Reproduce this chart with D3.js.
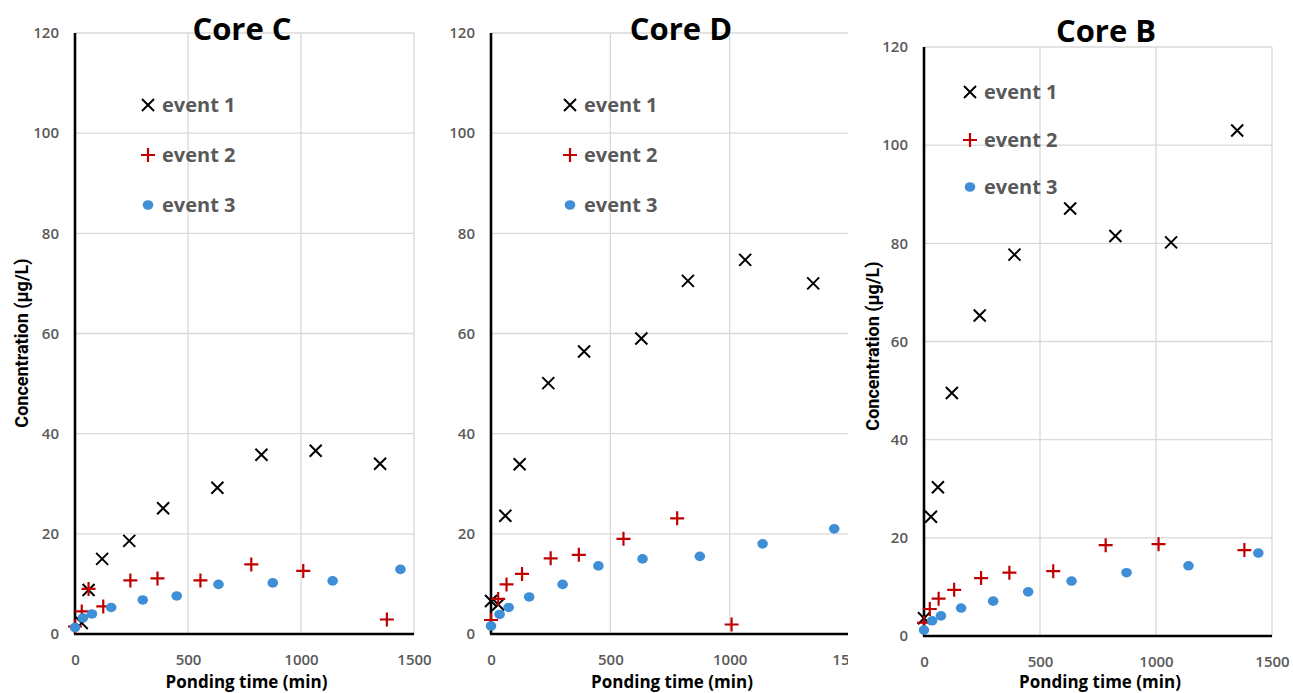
<!DOCTYPE html>
<html>
<head>
<meta charset="utf-8">
<script src="https://cdn.jsdelivr.net/npm/d3@7"></script>
<style>
  body { margin: 0; background: #fff; }
  svg { display: block; }
</style>
</head>
<body>
<div id="chart-area"></div>
<script>
// ponding time (min), concentration (ug/L)
const coreC_event1 = [[30, 2.2], [60, 8.8], [120, 15.0], [240, 18.6], [390, 25.1], [630, 29.2], [825, 35.8], [1065, 36.6], [1350, 34.0]]
const coreC_event2 = [[0, 1.5], [30, 4.5], [60, 9.0], [125, 5.5], [245, 10.7], [365, 11.1], [555, 10.7], [780, 13.9], [1010, 12.6], [1380, 2.9]]
const coreC_event3 = [[0, 1.3], [35, 3.2], [75, 4.0], [160, 5.3], [300, 6.8], [450, 7.6], [635, 9.9], [875, 10.2], [1140, 10.6], [1440, 12.9]]

const coreD_event1 = [[0, 6.6], [30, 5.9], [60, 23.6], [120, 33.9], [240, 50.1], [390, 56.4], [630, 59.0], [825, 70.5], [1065, 74.7], [1350, 70.0]]
const coreD_event2 = [[0, 2.8], [30, 7.0], [65, 9.9], [130, 12.0], [250, 15.1], [368, 15.8], [555, 19.0], [780, 23.1], [1008, 1.9]]
const coreD_event3 = [[0, 1.6], [36, 3.9], [74, 5.3], [160, 7.4], [300, 9.9], [450, 13.6], [635, 15.0], [875, 15.5], [1138, 18.0], [1438, 21.0]]

const coreB_event1 = [[0, 3.6], [30, 24.3], [60, 30.3], [120, 49.5], [240, 65.3], [390, 77.7], [630, 87.1], [825, 81.5], [1065, 80.2], [1350, 103.0]]
const coreB_event2 = [[0, 2.7], [25, 5.5], [63, 7.6], [130, 9.4], [246, 11.8], [368, 12.9], [557, 13.2], [783, 18.5], [1011, 18.7], [1381, 17.5]]
const coreB_event3 = [[0, 1.2], [35, 3.1], [73, 4.1], [160, 5.7], [298, 7.1], [449, 9.0], [636, 11.2], [873, 12.9], [1140, 14.3], [1441, 16.9]]

const xTicks = [0, 500, 1000, 1500]
const yTicks = [0, 20, 40, 60, 80, 100, 120]
const seriesNames = ["event 1", "event 2", "event 3"]

const panels = [
  { title: "Core C", data: [coreC_event1, coreC_event2, coreC_event3],
    left: 75, right: 414, top: 33, bottom: 634, titleX: 242, titleY: 40,
    yTitleX: 22, yTitleY: 343, legX: 148, legY: [105, 155, 205], clipRight: null },
  { title: "Core D", data: [coreD_event1, coreD_event2, coreD_event3],
    left: 491, right: 849, top: 33, bottom: 634, titleX: 681, titleY: 40,
    yTitleX: null, yTitleY: null, legX: 570, legY: [105, 155, 205], clipRight: 848 },
  { title: "Core B", data: [coreB_event1, coreB_event2, coreB_event3],
    left: 924, right: 1272, top: 47, bottom: 636, titleX: 1106, titleY: 42,
    yTitleX: 873, yTitleY: 346, legX: 970, legY: [92, 140, 187], clipRight: null }
]

const W = 1293, H = 693
const GRID = "#d9d9d9", TICK = "#595959"
const RED = "#c00000", BLUE = "#3f8fd6"

const svg = d3.select("#chart-area").append("svg")
  .attr("width", W)
  .attr("height", H)

svg.append("defs").append("clipPath")
  .attr("id", "clipD")
  .append("rect")
  .attr("x", 430).attr("y", 0).attr("width", 848 - 430).attr("height", H)

function drawMarker(g, kind, cx, cy) {
  if (kind === 0) {
    const s = 6
    g.append("path")
      .attr("d", `M${cx - s},${cy - s}L${cx + s},${cy + s}M${cx - s},${cy + s}L${cx + s},${cy - s}`)
      .attr("stroke", "#000").attr("stroke-width", 2).attr("fill", "none")
  } else if (kind === 1) {
    const s = 7
    g.append("path")
      .attr("d", `M${cx - s},${cy}L${cx + s},${cy}M${cx},${cy - s}L${cx},${cy + s}`)
      .attr("stroke", RED).attr("stroke-width", 2.2).attr("fill", "none")
  } else {
    g.append("ellipse")
      .attr("cx", cx).attr("cy", cy).attr("rx", 5.3).attr("ry", 4.8)
      .attr("fill", BLUE)
  }
}

panels.forEach(p => {
  const g = svg.append("g")
  if (p.clipRight) g.attr("clip-path", "url(#clipD)")

  const x = d3.scaleLinear().domain([0, 1500]).range([p.left, p.right])
  const y = d3.scaleLinear().domain([0, 120]).range([p.bottom, p.top])

  // gridlines
  g.append("g")
    .selectAll("line")
    .data(yTicks.filter(d => d > 0))
    .join("line")
    .attr("x1", p.left).attr("x2", p.right)
    .attr("y1", d => y(d)).attr("y2", d => y(d))
    .attr("stroke", GRID).attr("stroke-width", 1.3)
  g.append("g")
    .selectAll("line")
    .data(xTicks.filter(d => d > 0))
    .join("line")
    .attr("x1", d => x(d)).attr("x2", d => x(d))
    .attr("y1", p.top).attr("y2", p.bottom)
    .attr("stroke", GRID).attr("stroke-width", 1.3)

  // tick labels
  const yAxis = g.append("g")
    .attr("transform", `translate(${p.left - 10},0)`)
    .call(d3.axisLeft(y).tickValues(yTicks).tickSize(0).tickPadding(6).tickFormat(d3.format("d")))
  const xAxis = g.append("g")
    .attr("transform", `translate(0,${p.bottom + 16})`)
    .call(d3.axisBottom(x).tickValues(xTicks).tickSize(0).tickPadding(4).tickFormat(d3.format("d")))
  ;[xAxis, yAxis].forEach(a => {
    a.select(".domain").remove()
    a.selectAll("text")
      .attr("fill", TICK)
      .style("font-family", "'Open Sans', sans-serif")
      .style("font-size", "15px")
      .style("font-weight", "600")
  })

  // axis lines
  g.append("line")
    .attr("x1", p.left).attr("x2", p.left)
    .attr("y1", p.top).attr("y2", p.bottom)
    .attr("stroke", "#000").attr("stroke-width", 2.6)
  g.append("line")
    .attr("x1", p.left - 1).attr("x2", p.right)
    .attr("y1", p.bottom).attr("y2", p.bottom)
    .attr("stroke", "#000").attr("stroke-width", 2.6)

  // points
  p.data.forEach((series, k) => {
    series.forEach(d => drawMarker(g, k, x(d[0]), y(d[1])))
  })

  // title
  g.append("text")
    .attr("x", p.titleX).attr("y", p.titleY)
    .attr("text-anchor", "middle")
    .style("font-family", "'Open Sans', sans-serif")
    .style("font-size", "31px")
    .style("font-weight", "700")
    .attr("fill", "#000")
    .text(p.title)

  // legend
  seriesNames.forEach((name, k) => {
    drawMarker(g, k, p.legX, p.legY[k])
    g.append("text")
      .attr("x", p.legX + 14).attr("y", p.legY[k] + 7)
      .style("font-family", "'Open Sans', sans-serif")
      .style("font-size", "20px")
      .style("font-weight", "700")
      .attr("fill", TICK)
      .text(name)
  })

  // X label
  g.append("text")
    .attr("x", (p.left + p.right) / 2 + 2)
    .attr("y", 688)
    .attr("text-anchor", "middle")
    .style("font-family", "'Open Sans', sans-serif")
    .style("font-size", "17px")
    .style("font-weight", "700")
    .attr("fill", "#000")
    .text("Ponding time (min)")

  // Y label
  if (p.yTitleX !== null) {
    g.append("text")
      .attr("transform", `translate(${p.yTitleX + 6},${p.yTitleY}) rotate(-90)`)
      .attr("text-anchor", "middle")
      .style("font-family", "'Liberation Sans Narrow', 'Roboto', sans-serif")
      .style("font-size", "18px")
      .style("font-weight", "700")
      .attr("fill", "#000")
      .text("Concentration (µg/L)")
  }
})
</script>
</body>
</html>
